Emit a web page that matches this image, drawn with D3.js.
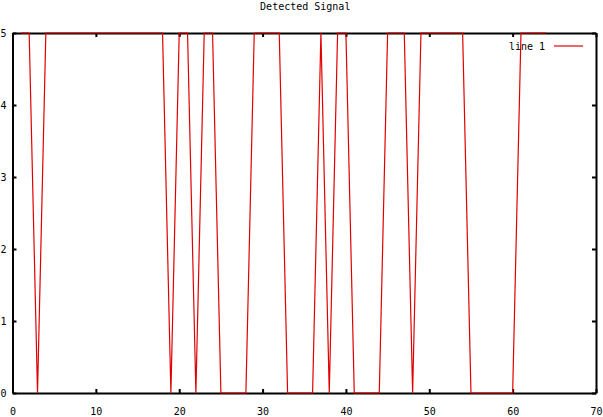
<!DOCTYPE html>
<html>
<head>
<meta charset="utf-8">
<script src="https://cdn.jsdelivr.net/npm/d3@7"></script>
<style>
  body { margin: 0; background: #fff; }
  svg { display: block; font-family: "DejaVu Sans Mono", monospace; }
  .domain { stroke: #000; stroke-width: 2; }
  .tick line { stroke: #000; stroke-width: 2; }
  .tick text { font-size: 10px; fill: #000; }
</style>
</head>
<body>
<div id="chart"></div>
<script>
// sample positions and detected level
var sampleX = [1, 2, 3, 4, 5, 6, 7, 8, 9, 10, 11, 12, 13, 14, 15, 16,
               17, 18, 19, 20, 21, 22, 23, 24, 25, 26, 27, 28, 29, 30, 31, 32,
               33, 34, 35, 36, 37, 38, 39, 40, 41, 42, 43, 44, 45, 46, 47, 48,
               49, 50, 51, 52, 53, 54, 55, 56, 57, 58, 59, 60, 61, 62, 63, 64];
var signal  = [5, 5, 0, 5, 5, 5, 5, 5, 5, 5, 5, 5, 5, 5, 5, 5,
               5, 5, 0, 5, 5, 0, 5, 5, 0, 0, 0, 0, 5, 5, 5, 5,
               0, 0, 0, 0, 5, 0, 5, 5, 0, 0, 0, 0, 5, 5, 5, 0,
               5, 5, 5, 5, 5, 5, 0, 0, 0, 0, 0, 0, 5, 5, 5, 5];
var xTicks = [0, 10, 20, 30, 40, 50, 60, 70];
var yTicks = [0, 1, 2, 3, 4, 5];
var title = "Detected Signal";
var seriesName = "line 1";

var w = 603;
var h = 417;
// plot box (note: "top" is reserved on window, so use other names)
var padL = 12.5, padR = 596, padT = 33, padB = 393;

var svg = d3.select("#chart")
            .append("svg")
            .attr("width", w)
            .attr("height", h);

var x = d3.scaleLinear().domain([0, 70]).range([padL, padR]);
var y = d3.scaleLinear().domain([0, 5]).range([padB, padT]);
var intFmt = d3.format("d");

var points = sampleX.map(function (d, i) { return [d, signal[i]]; });

var line = d3.line()
             .x(function (d) { return x(d[0]); })
             .y(function (d) { return y(d[1]); });

// bottom axis with labels, ticks pointing in
svg.append("g")
   .attr("transform", "translate(0," + padB + ")")
   .call(d3.axisBottom(x).tickValues(xTicks).tickFormat(intFmt)
           .tickSizeInner(-4).tickSizeOuter(0).tickPadding(15));

// top axis, ticks only
svg.append("g")
   .attr("transform", "translate(0," + padT + ")")
   .call(d3.axisTop(x).tickValues(xTicks).tickSizeInner(-4).tickSizeOuter(0).tickFormat(""));

// left axis with labels
var yAxisG = svg.append("g")
   .attr("transform", "translate(" + padL + ",0)")
   .call(d3.axisLeft(y).tickValues(yTicks).tickFormat(intFmt)
           .tickSizeInner(-4).tickSizeOuter(0));

// put the y labels flush against the left edge like the original
yAxisG.selectAll(".tick text")
      .attr("x", -padL + 0.5)
      .attr("text-anchor", "start");

// right axis, ticks only
svg.append("g")
   .attr("transform", "translate(" + padR + ",0)")
   .call(d3.axisRight(y).tickValues(yTicks).tickSizeInner(-4).tickSizeOuter(0).tickFormat(""));

svg.selectAll(".tick text").attr("font-family", "DejaVu Sans Mono, monospace");

svg.append("path")
   .datum(points)
   .attr("d", line)
   .attr("fill", "none")
   .attr("stroke", "#e00000")
   .attr("stroke-width", 1.2);

svg.append("text")
   .attr("x", (padL + padR) / 2 + 1)
   .attr("y", 10)
   .attr("text-anchor", "middle")
   .attr("font-size", "10px")
   .text(title);

// legend
svg.append("text")
   .attr("x", 545)
   .attr("y", 50)
   .attr("text-anchor", "end")
   .attr("font-size", "10px")
   .text(seriesName);

svg.append("line")
   .attr("x1", 554)
   .attr("x2", 583)
   .attr("y1", 46)
   .attr("y2", 46)
   .attr("stroke", "#e00000")
   .attr("stroke-width", 1.2);
</script>
</body>
</html>
